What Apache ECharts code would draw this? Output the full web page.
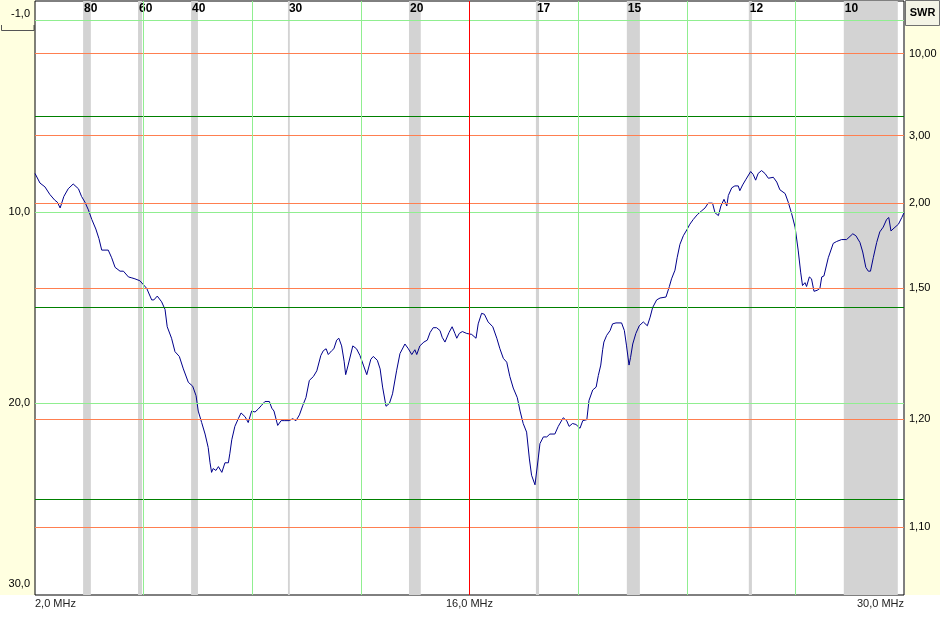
<!DOCTYPE html>
<html>
<head>
<meta charset="utf-8">
<script src="https://cdn.jsdelivr.net/npm/echarts@6/dist/echarts.min.js"></script>
<style>html,body{margin:0;padding:0;background:#fff}#c{width:940px;height:621px}</style>
</head>
<body>
<div id="c"></div>
<script>
// ---- data ----
const freqMHz = [2.00,2.16,2.32,2.48,2.64,2.72,2.81,2.86,2.93,3.07,3.23,3.40,3.50,3.61,3.72,3.83,3.96,4.06,4.15,4.36,4.47,4.58,4.74,4.85,5.01,5.12,5.22,5.38,5.60,5.76,5.83,5.94,6.08,6.19,6.26,6.40,6.51,6.65,6.78,6.94,7.08,7.19,7.26,7.37,7.48,7.58,7.64,7.69,7.74,7.83,7.91,8.02,8.12,8.23,8.28,8.34,8.44,8.55,8.64,8.77,8.87,8.98,9.09,9.19,9.30,9.41,9.55,9.63,9.70,9.82,9.93,10.05,10.19,10.30,10.41,10.52,10.63,10.73,10.84,10.97,11.08,11.21,11.29,11.38,11.45,11.56,11.63,11.72,11.79,11.88,11.96,12.01,12.09,12.24,12.36,12.47,12.58,12.69,12.74,12.82,12.90,13.03,13.12,13.20,13.31,13.42,13.52,13.65,13.76,13.92,14.03,14.14,14.24,14.30,14.36,14.40,14.53,14.64,14.73,14.83,14.94,15.05,15.12,15.21,15.34,15.44,15.53,15.59,15.67,15.77,15.91,16.07,16.21,16.28,16.39,16.48,16.60,16.75,16.88,16.98,17.09,17.12,17.20,17.30,17.41,17.54,17.63,17.73,17.84,17.93,18.00,18.11,18.16,18.22,18.27,18.38,18.49,18.59,18.75,18.86,19.02,19.13,19.21,19.32,19.43,19.56,19.65,19.78,19.85,19.97,20.08,20.15,20.23,20.29,20.33,20.42,20.53,20.61,20.72,20.90,20.99,21.06,21.14,21.19,21.26,21.36,21.47,21.60,21.73,21.82,21.90,22.03,22.14,22.33,22.44,22.51,22.62,22.69,22.78,22.89,23.00,23.10,23.21,23.34,23.48,23.59,23.69,23.83,23.91,24.02,24.10,24.20,24.29,24.34,24.45,24.55,24.66,24.71,24.80,24.91,25.06,25.14,25.22,25.30,25.41,25.52,25.63,25.79,25.90,26.00,26.17,26.27,26.38,26.49,26.59,26.67,26.73,26.81,26.86,26.95,27.02,27.10,27.20,27.29,27.35,27.42,27.45,27.56,27.72,27.83,27.99,28.15,28.21,28.35,28.45,28.58,28.67,28.77,28.85,28.92,29.01,29.12,29.22,29.33,29.44,29.51,29.58,29.68,29.82,29.93,30.00];
const returnLossDb = [8.0,8.5,8.7,9.1,9.4,9.5,9.8,9.8,9.2,8.8,8.55,8.8,9.2,9.5,9.9,10.4,10.9,11.4,12.0,12.0,12.4,12.9,13.1,13.1,13.4,13.45,13.5,13.6,14.0,14.6,14.6,14.4,14.7,15.1,16.0,16.6,17.3,17.55,18.2,18.9,19.1,19.6,20.4,21.0,21.6,22.3,23.1,23.6,23.4,23.5,23.3,23.6,23.1,23.1,22.6,21.9,21.2,20.8,20.5,20.7,21.0,20.4,20.45,20.3,20.1,19.9,19.9,20.25,20.4,21.15,20.9,20.9,20.9,20.8,20.9,20.6,20.1,19.7,18.8,18.6,18.3,17.5,17.25,17.15,17.45,17.25,17.15,16.7,16.6,17.0,17.8,18.5,18.0,17.0,17.15,17.5,18.0,18.5,18.5,17.7,17.55,17.75,18.2,19.15,20.15,20.0,19.5,18.3,17.4,16.9,17.15,17.45,17.2,17.45,17.5,17.0,16.8,16.7,16.3,16.05,16.05,16.2,16.55,16.8,16.3,16.0,16.35,16.6,16.35,16.25,16.35,16.4,16.6,15.85,15.3,15.35,15.75,16.0,16.6,17.15,17.65,17.6,17.85,18.6,19.2,19.7,20.4,21.05,21.5,22.9,23.75,24.25,24.25,22.8,22.1,21.75,21.75,21.6,21.6,21.2,20.75,20.9,21.2,21.05,21.1,21.3,20.9,20.85,19.85,19.3,19.15,18.55,18.0,17.2,16.8,16.45,16.2,15.85,15.8,15.8,16.2,17.0,18.0,17.6,16.9,16.35,15.95,15.75,15.95,15.5,15.0,14.6,14.5,14.45,13.9,13.5,13.05,12.4,11.7,11.25,10.95,10.65,10.4,10.15,9.95,9.8,9.55,9.55,10.05,10.2,9.7,9.35,9.7,9.15,8.75,8.65,8.65,8.9,8.6,8.3,7.9,8.05,8.35,8.0,7.85,8.0,8.25,8.2,8.45,8.85,9.05,9.5,10.1,10.8,12.0,13.15,13.85,13.7,13.9,13.4,13.5,14.15,14.1,14.0,13.4,13.35,13.4,12.4,11.65,11.55,11.45,11.45,11.55,11.15,11.25,11.6,12.1,12.9,13.1,13.1,12.4,11.6,11.05,10.8,10.4,10.3,11.0,10.85,10.65,10.3,10.05];

const bandNames = ['80','60','40','30','20','17','15','12','10'];
const bandStart = [3.55,5.32,7.03,10.15,14.05,18.14,21.07,25.00,28.06];
const bandEnd   = [3.80,5.45,7.25,10.21,14.43,18.24,21.49,25.10,29.80];

const xLabelValues = [2, 16, 30];          // MHz
const yLabelValues = [-1, 10, 20, 30];     // dB
const swrTicks = [10, 3, 2, 1.5, 1.2, 1.1];
const lightGridDb = [0, 10, 20];
const darkRefDb = [5, 15, 25];
const freqGrid = [5.5, 9, 12.5, 19.5, 23, 26.5];
const centerFreq = 16;
const xMin = 2, xMax = 30, yMin = -1, yMax = 30;

// ---- helpers ----
const swrToRl = s => -20 * Math.log10((s - 1) / (s + 1));
const rlToSwr = r => { const g = Math.pow(10, -r / 20); return (1 + g) / (1 - g); };
const comma = (v, d) => v.toFixed(d).replace('.', ',');

const swrRl = swrTicks.map(swrToRl);
const curve = freqMHz.map((f, i) => [f, returnLossDb[i]]);
const bandData = bandStart.map((s, i) => [s, bandEnd[i]]);

const FONT = 'Liberation Sans';
const C_LIGHT = '#90EE90', C_DARK = '#008000', C_ORANGE = '#FF7F50', C_RED = '#FF0000', C_BAND = '#D3D3D3';

const hLines = [
  ...lightGridDb.map(v => ({yAxis: v, lineStyle: {color: C_LIGHT}})),
  ...swrRl.map(v => ({yAxis: v, lineStyle: {color: C_ORANGE}})),
  ...darkRefDb.map(v => ({yAxis: v, lineStyle: {color: C_DARK}}))
];
const vLines = [
  ...freqGrid.map(v => ({xAxis: v, lineStyle: {color: C_LIGHT}})),
  {xAxis: centerFreq, lineStyle: {color: C_RED}}
];

const chart = echarts.init(document.getElementById('c'), null, {renderer: 'canvas'});
chart.setOption({
  animation: false,
  backgroundColor: '#fff',
  graphic: {elements: [
    {type: 'rect', z: -5, shape: {x: 0, y: 0, width: 35, height: 595}, style: {fill: '#FFFFE0'}},
    {type: 'rect', z: -5, shape: {x: 905, y: 0, width: 35, height: 595}, style: {fill: '#FFFFE0'}},
    {type: 'rect', z: -4, shape: {x: 905.5, y: 0.5, width: 34, height: 25}, style: {fill: '#F4F4E6', stroke: '#707070', lineWidth: 1}},
    {type: 'text', z: 10, style: {x: 922.5, y: 13, text: 'SWR', align: 'center', verticalAlign: 'middle', font: 'bold 11px ' + FONT, fill: '#000'}},
    {type: 'polyline', z: -3, shape: {points: [[1.5, 25], [1.5, 30.5], [34, 30.5], [34, 25]]}, style: {stroke: '#555', lineWidth: 1, fill: null}}
  ]},
  grid: {left: 35, right: 36, top: 1, bottom: 26, show: true, backgroundColor: '#fff', borderColor: '#000', borderWidth: 1},
  xAxis: {
    type: 'value', min: xMin, max: xMax,
    splitLine: {show: false}, axisTick: {show: false}, axisLine: {show: false},
    axisLabel: {
      customValues: xLabelValues, margin: 3, color: '#222', fontFamily: FONT, fontSize: 11,
      alignMinLabel: 'left', alignMaxLabel: 'right',
      formatter: v => comma(v, 1) + ' MHz'
    }
  },
  yAxis: [{
    type: 'value', inverse: true, min: yMin, max: yMax,
    splitLine: {show: false}, axisTick: {show: false}, axisLine: {show: false},
    axisLabel: {
      customValues: yLabelValues, margin: 5, color: '#000', fontFamily: FONT, fontSize: 11,
      formatter: v => v === yMin ? '{t|' + comma(v, 1) + '}' : (v === yMax ? '{b|' + comma(v, 1) + '}' : comma(v, 1)),
      rich: {t: {padding: [26, 0, 0, 0], fontFamily: FONT, fontSize: 11, color: '#000'},
             b: {padding: [0, 0, 22, 0], fontFamily: FONT, fontSize: 11, color: '#000'}}
    }
  }, {
    type: 'value', inverse: true, min: yMin, max: yMax, position: 'right',
    splitLine: {show: false}, axisTick: {show: false}, axisLine: {show: false},
    axisLabel: {
      customValues: swrRl, margin: 5, color: '#000', fontFamily: FONT, fontSize: 11,
      formatter: v => comma(rlToSwr(v), 2)
    }
  }],
  series: [{
    type: 'custom', z: 1, silent: true, clip: true,
    data: bandData,
    encode: {x: [0, 1]},
    renderItem: (params, api) => {
      const a = api.coord([api.value(0), yMin]);
      const b = api.coord([api.value(1), yMax]);
      return {
        type: 'group',
        children: [
          {type: 'rect', shape: {x: a[0], y: a[1], width: Math.max(b[0] - a[0], 1), height: b[1] - a[1]}, style: {fill: C_BAND}},
          {type: 'text', z2: 50, style: {x: a[0] + 1, y: a[1] + 2, text: bandNames[params.dataIndex], font: 'bold 12px ' + FONT, fill: '#000', align: 'left', verticalAlign: 'top'}}
        ]
      };
    }
  }, {
    type: 'line', data: [], z: 2, silent: true,
    markLine: {silent: true, symbol: ['none', 'none'], label: {show: false}, lineStyle: {type: 'solid', width: 1}, data: hLines}
  }, {
    type: 'line', data: [], z: 3, silent: true,
    markLine: {silent: true, symbol: ['none', 'none'], label: {show: false}, lineStyle: {type: 'solid', width: 1}, data: vLines}
  }, {
    type: 'line', data: curve, z: 4, showSymbol: false, symbol: 'none', silent: true,
    lineStyle: {color: '#00008B', width: 1}
  }]
});
</script>
</body>
</html>
